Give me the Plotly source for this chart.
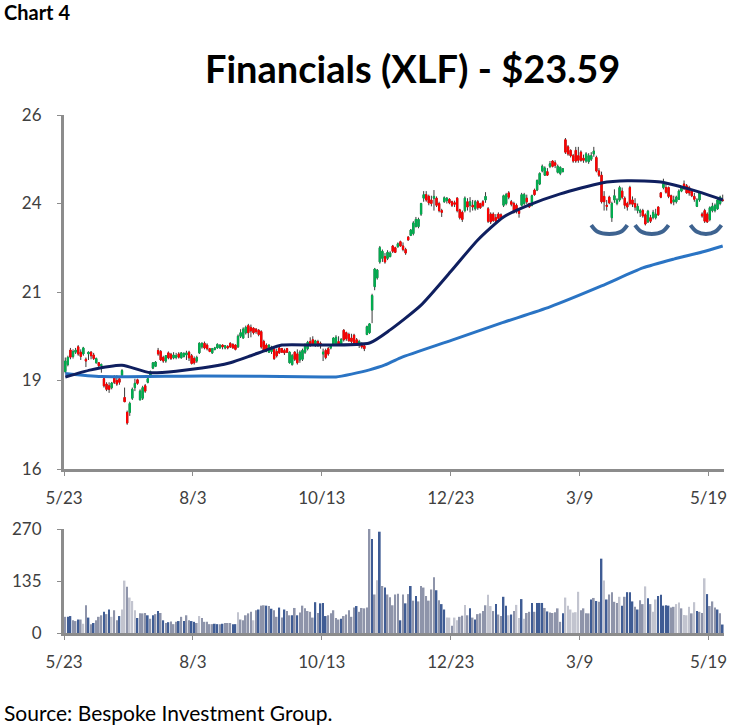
import numpy as np
import plotly.graph_objects as go

# === Підписи осей ===
x_tickvals = [0, 50, 100, 150, 200, 250]
x_ticktext = ["5/23", "8/3", "10/13", "12/23", "3/9", "5/19"]
price_tickvals = [16, 18.5, 21, 23.5, 26]
price_ticktext = ["16", "19", "21", "24", "26"]
vol_tickvals = [0, 135, 270]
vol_ticktext = ["0", "135", "270"]

# === Ціни ===
opens = [
    18.75, 18.95, 19.36, 19.18, 19.3, 19.45, 19.3, 19.25, 19.1, 19.25,
    19.3, 19.22, 19.0, 19.0, 18.92, 18.55, 18.4, 18.35, 18.3, 18.6,
    18.5, 18.55, 18.65, 18.02, 17.6, 17.6, 18.0, 18.3, 18.52, 17.95,
    18.0, 18.35, 18.45, 18.6, 18.85, 18.9, 19.35, 19.32, 19.15, 19.05,
    19.28, 19.24, 19.14, 19.15, 19.25, 19.14, 19.18, 19.22, 19.3, 19.2,
    19.12, 19.05, 19.28, 19.45, 19.55, 19.5, 19.4, 19.28, 19.38, 19.42,
    19.42, 19.5, 19.42, 19.46, 19.55, 19.52, 19.5, 19.45, 19.75, 19.7,
    19.85, 20.05, 20.0, 19.98, 19.95, 19.92, 19.88, 19.6, 19.5, 19.3,
    19.32, 19.38, 19.32, 19.42, 19.4, 19.35, 19.4, 19.0, 18.95, 19.3,
    19.25, 19.08, 19.1, 19.3, 19.4, 19.6, 19.65, 19.5, 19.6, 19.55,
    19.25, 19.35, 19.4, 19.42, 19.52, 19.55, 19.6, 19.52, 19.92, 19.85,
    19.8, 19.7, 19.78, 19.65, 19.55, 19.5, 19.48, 19.8, 19.85, 20.49,
    21.15, 21.4, 21.85, 21.95, 22.0, 21.95, 22.0, 22.3, 22.25, 22.28,
    22.42, 22.3, 22.2, 22.55, 22.6, 22.65, 22.85, 22.85, 23.2, 23.65,
    23.75, 23.7, 23.6, 23.65, 23.65, 23.5, 23.3, 23.55, 23.58, 23.62,
    23.55, 23.52, 23.65, 23.32, 23.25, 23.3, 23.55, 23.45, 23.45, 23.35,
    23.55, 23.5, 23.55, 23.6, 23.35, 23.2, 23.2, 23.1, 23.2, 23.18,
    23.45, 23.5, 23.8, 23.55, 23.5, 23.45, 23.3, 23.45, 23.5, 23.65,
    23.5, 23.45, 23.88, 23.88, 24.05, 24.42, 24.3, 24.4, 24.55, 24.7,
    24.65, 24.38, 24.35, 24.4, 25.3, 25.1, 25.0, 24.85, 25.0, 24.85,
    24.95, 24.78, 24.7, 24.68, 24.75, 24.9, 24.8, 24.42, 24.3, 23.7,
    23.45, 23.68, 23.1, 23.6, 23.5, 23.6, 23.85, 23.65, 23.5, 23.95,
    23.6, 23.5, 23.3, 23.25, 23.3, 23.18, 22.98, 23.1, 23.1, 23.1,
    23.4, 23.8, 23.95, 23.95, 23.95, 23.72, 23.55, 23.55, 23.62, 23.85,
    24.05, 24.0, 23.95, 23.85, 23.7, 23.42, 23.6, 23.2, 23.3, 23.2,
    23.05, 23.3, 23.3, 23.35, 23.5, 23.6,
]
closes = [
    19.05, 19.15, 19.16, 19.32, 19.36, 19.25, 19.18, 19.42, 19.05, 19.3,
    19.2, 19.12, 19.12, 18.92, 18.95, 18.35, 18.25, 18.25, 18.43, 18.45,
    18.4, 18.45, 18.78, 17.9, 17.3, 17.85, 18.25, 18.42, 18.42, 18.2,
    18.3, 18.2, 18.55, 18.75, 19.0, 19.02, 19.25, 19.08, 19.05, 19.2,
    19.14, 19.12, 19.22, 19.2, 19.16, 19.28, 19.26, 19.28, 19.14, 18.98,
    19.0, 19.15, 19.55, 19.55, 19.42, 19.4, 19.32, 19.4, 19.42, 19.52,
    19.5, 19.45, 19.48, 19.42, 19.45, 19.42, 19.38, 19.75, 19.85, 19.95,
    20.0, 19.85, 19.9, 19.85, 19.88, 19.8, 19.45, 19.35, 19.35, 19.5,
    19.44, 19.12, 19.2, 19.28, 19.3, 19.28, 19.3, 19.3, 19.2, 19.1,
    19.0, 19.3, 19.35, 19.5, 19.58, 19.5, 19.52, 19.62, 19.5, 19.48,
    19.3, 19.15, 19.25, 19.48, 19.7, 19.72, 19.5, 19.66, 19.65, 19.68,
    19.62, 19.6, 19.55, 19.5, 19.6, 19.45, 19.4, 20.02, 20.1, 20.9,
    21.65, 21.62, 22.25, 22.15, 21.85, 22.12, 22.1, 22.15, 22.12, 22.36,
    22.3, 22.2, 22.1, 22.47, 22.75, 22.95, 23.05, 23.05, 23.5, 23.75,
    23.6, 23.52, 23.5, 23.7, 23.45, 23.3, 23.25, 23.66, 23.65, 23.52,
    23.45, 23.48, 23.3, 23.1, 23.05, 23.65, 23.4, 23.55, 23.4, 23.55,
    23.38, 23.38, 23.45, 23.7, 23.0, 22.98, 23.02, 23.0, 23.08, 23.08,
    23.72, 23.75, 23.68, 23.48, 23.25, 23.28, 23.22, 23.75, 23.75, 23.55,
    23.4, 23.72, 23.75, 24.15, 24.35, 24.55, 24.5, 24.3, 24.62, 24.55,
    24.58, 24.55, 24.52, 24.48, 24.95, 24.9, 24.85, 24.7, 24.7, 24.72,
    24.72, 24.72, 24.9, 24.85, 24.85, 24.98, 24.42, 24.3, 23.55, 23.55,
    23.42, 23.52, 23.5, 23.72, 23.6, 23.95, 23.68, 23.45, 23.4, 23.5,
    23.48, 23.4, 23.42, 23.3, 23.15, 22.92, 23.28, 23.0, 23.25, 23.2,
    23.18, 23.68, 24.05, 23.82, 23.7, 23.52, 23.6, 23.68, 23.85, 23.95,
    23.92, 23.8, 23.8, 23.72, 23.62, 23.6, 23.8, 23.15, 23.0, 22.98,
    23.38, 23.42, 23.45, 23.6, 23.68, 23.59,
]
highs = [
    19.15, 19.2, 19.42, 19.38, 19.42, 19.5, 19.38, 19.45, 19.15, 19.32,
    19.33, 19.28, 19.15, 19.02, 18.98, 18.6, 18.45, 18.45, 18.46, 18.65,
    18.65, 18.6, 18.82, 18.3, 17.65, 17.9, 18.3, 18.55, 18.55, 18.25,
    18.35, 18.4, 18.58, 18.78, 19.02, 19.05, 19.42, 19.36, 19.2, 19.22,
    19.32, 19.28, 19.3, 19.28, 19.3, 19.3, 19.3, 19.34, 19.34, 19.25,
    19.18, 19.2, 19.58, 19.58, 19.6, 19.55, 19.42, 19.42, 19.45, 19.55,
    19.52, 19.52, 19.5, 19.5, 19.58, 19.55, 19.52, 19.8, 19.95, 20.0,
    20.05, 20.1, 20.08, 20.0, 19.98, 19.95, 19.92, 19.65, 19.55, 19.52,
    19.48, 19.42, 19.4, 19.45, 19.42, 19.4, 19.42, 19.32, 19.25, 19.33,
    19.38, 19.35, 19.4, 19.55, 19.62, 19.72, 19.75, 19.65, 19.65, 19.6,
    19.4, 19.4, 19.45, 19.52, 19.72, 19.78, 19.75, 19.7, 19.95, 19.88,
    19.85, 19.82, 19.82, 19.7, 19.65, 19.58, 19.5, 20.05, 20.12, 20.95,
    21.68, 21.65, 22.3, 22.2, 22.1, 22.18, 22.15, 22.33, 22.28, 22.4,
    22.45, 22.4, 22.25, 22.58, 22.78, 23.0, 23.12, 23.1, 23.52, 23.85,
    23.85, 23.75, 23.72, 23.88, 23.7, 23.55, 23.35, 23.7, 23.68, 23.65,
    23.58, 23.58, 23.68, 23.35, 23.3, 23.7, 23.65, 23.68, 23.6, 23.6,
    23.6, 23.52, 23.6, 23.82, 23.4, 23.25, 23.25, 23.2, 23.25, 23.22,
    23.75, 23.8, 23.85, 23.6, 23.55, 23.5, 23.35, 23.8, 23.8, 23.75,
    23.52, 23.75, 23.92, 24.18, 24.38, 24.6, 24.55, 24.5, 24.7, 24.72,
    24.72, 24.6, 24.55, 24.5, 25.35, 25.15, 25.03, 24.9, 25.1, 25.1,
    25.0, 24.88, 24.95, 24.92, 24.95, 25.1, 24.85, 24.5, 24.4, 23.85,
    23.6, 23.72, 23.55, 23.9, 23.65, 24.0, 23.95, 23.7, 23.55, 24.0,
    23.7, 23.65, 23.5, 23.35, 23.35, 23.22, 23.32, 23.18, 23.32, 23.35,
    23.42, 23.82, 24.2, 24.05, 23.98, 23.75, 23.72, 23.72, 23.9, 23.98,
    24.15, 24.05, 24.0, 23.9, 23.8, 23.65, 23.82, 23.25, 23.35, 23.25,
    23.42, 23.52, 23.5, 23.65, 23.72, 23.75,
]
lows = [
    18.7, 18.9, 19.1, 19.12, 19.25, 19.2, 19.08, 19.2, 18.88, 19.08,
    19.1, 19.08, 18.98, 18.85, 18.72, 18.3, 18.2, 18.15, 18.25, 18.4,
    18.35, 18.38, 18.62, 17.9, 17.25, 17.5, 17.95, 18.2, 18.38, 17.95,
    17.95, 18.15, 18.42, 18.58, 18.82, 18.88, 19.2, 19.05, 19.0, 19.0,
    19.1, 19.08, 19.1, 19.1, 19.12, 19.12, 19.15, 19.08, 19.05, 18.95,
    18.95, 19.0, 19.25, 19.4, 19.38, 19.35, 19.3, 19.25, 19.35, 19.4,
    19.4, 19.38, 19.38, 19.38, 19.42, 19.4, 19.35, 19.42, 19.7, 19.68,
    19.8, 19.7, 19.72, 19.8, 19.82, 19.75, 19.4, 19.3, 19.3, 19.28,
    19.25, 19.08, 19.15, 19.25, 19.28, 19.22, 19.28, 18.98, 18.92, 19.05,
    18.95, 19.0, 19.05, 19.25, 19.35, 19.45, 19.5, 19.45, 19.45, 19.4,
    19.05, 19.1, 19.2, 19.38, 19.5, 19.52, 19.48, 19.5, 19.6, 19.62,
    19.6, 19.55, 19.52, 19.48, 19.42, 19.4, 19.33, 19.78, 19.82, 20.12,
    21.05, 21.35, 21.8, 21.85, 21.8, 21.9, 21.98, 22.1, 22.1, 22.25,
    22.28, 22.15, 22.05, 22.45, 22.58, 22.6, 22.82, 22.8, 23.15, 23.55,
    23.55, 23.45, 23.42, 23.3, 23.4, 23.25, 23.12, 23.52, 23.5, 23.48,
    23.4, 23.4, 23.25, 23.05, 22.98, 23.25, 23.3, 23.25, 23.3, 23.3,
    23.32, 23.35, 23.4, 23.52, 22.95, 22.92, 22.98, 22.95, 23.05, 23.05,
    23.4, 23.45, 23.62, 23.42, 23.22, 23.22, 23.1, 23.42, 23.45, 23.48,
    23.38, 23.42, 23.72, 23.85, 24.02, 24.38, 24.28, 24.28, 24.5, 24.52,
    24.5, 24.35, 24.3, 24.38, 24.9, 24.85, 24.8, 24.65, 24.65, 24.65,
    24.68, 24.65, 24.65, 24.62, 24.7, 24.82, 24.38, 24.25, 23.5, 23.3,
    23.3, 23.48, 22.98, 23.52, 23.45, 23.55, 23.62, 23.35, 23.3, 23.45,
    23.4, 23.3, 23.22, 23.12, 23.1, 22.88, 22.95, 22.95, 23.05, 23.05,
    23.15, 23.65, 23.9, 23.78, 23.65, 23.48, 23.45, 23.5, 23.6, 23.82,
    23.88, 23.78, 23.72, 23.68, 23.55, 23.4, 23.55, 23.1, 22.95, 22.95,
    23.0, 23.25, 23.25, 23.32, 23.45, 23.55,
]

# === Ковзні середні ===
ma50_idx = [0, 10, 22, 33, 53, 64, 72, 78, 84, 99, 118, 126, 138, 150, 160, 170, 180, 192, 208, 218, 231, 239, 247, 255]
ma50 = [18.60, 18.80, 18.93, 18.72, 18.85, 19.0, 19.2, 19.36, 19.50, 19.50, 19.56, 19.93, 20.63, 21.62, 22.47, 23.12, 23.46, 23.77, 24.08, 24.14, 24.11, 23.97, 23.80, 23.60]
ma200_idx = [0, 14, 53, 100, 105, 111, 118, 124, 130, 150, 169, 188, 208, 224, 236, 247, 255]
ma200 = [18.70, 18.61, 18.63, 18.60, 18.60, 18.68, 18.80, 18.94, 19.14, 19.64, 20.12, 20.58, 21.17, 21.68, 21.93, 22.13, 22.30]

# === Дуги під мінімумами ===
arc_levels = [22.89, 22.70, 22.64, 22.70, 22.89]
arc1_idx = [204.5, 207, 211.5, 216, 218.5]
arc2_idx = [221.5, 224, 228, 232, 234.5]
arc3_idx = [243, 245.5, 249, 252.5, 255]

# === Об'єм ===
volume = [
    42, 42, 44, 33, 31, 35, 35, 24, 72, 40,
    23, 26, 33, 42, 46, 55, 49, 61, 42, 59,
    33, 44, 61, 136, 120, 92, 83, 59, 39, 51,
    51, 52, 46, 37, 46, 49, 57, 52, 33, 26,
    28, 30, 23, 29, 31, 42, 31, 46, 33, 31,
    29, 26, 44, 39, 29, 29, 23, 23, 24, 23,
    23, 24, 26, 26, 26, 23, 23, 54, 35, 33,
    46, 51, 55, 33, 59, 61, 71, 72, 71, 70,
    63, 59, 42, 66, 40, 61, 57, 46, 46, 65,
    46, 53, 71, 64, 57, 55, 40, 80, 52, 77,
    78, 44, 46, 51, 59, 39, 35, 37, 44, 48,
    59, 42, 66, 70, 55, 65, 64, 66, 271, 244,
    100, 137, 263, 122, 118, 100, 93, 72, 100, 102,
    33, 100, 77, 101, 122, 84, 96, 82, 122, 118,
    96, 84, 113, 145, 111, 85, 75, 61, 40, 40,
    19, 40, 33, 42, 45, 73, 46, 64, 40, 35,
    49, 51, 57, 72, 99, 70, 57, 75, 48, 44,
    94, 71, 46, 48, 57, 73, 39, 88, 37, 52,
    55, 78, 55, 78, 78, 78, 65, 56, 53, 52,
    54, 64, 29, 51, 92, 71, 61, 53, 54, 107,
    59, 64, 51, 51, 87, 91, 83, 81, 193, 136,
    87, 100, 106, 81, 78, 94, 71, 94, 106, 106,
    82, 68, 61, 85, 75, 121, 90, 75, 55, 87,
    96, 99, 71, 72, 71, 66, 68, 75, 79, 64,
    47, 46, 68, 51, 80, 57, 55, 52, 142, 101,
    70, 82, 66, 61, 51, 22,
]
vol_dark = [1, 2, 5, 9, 11, 15, 17, 21, 28, 32, 34, 36, 38, 40, 44, 46, 49, 50, 58, 59, 61, 65, 66, 75, 78, 80, 83, 85, 88, 90, 97, 99, 100, 101, 107, 113, 119,
            122, 124, 130, 132, 134, 136, 144, 146, 147, 157, 159, 167, 170, 171, 173, 177, 181, 183, 184, 185, 187, 193, 204, 206, 208, 210, 216, 218, 219, 220, 222, 226, 230, 231, 232, 233, 234, 245, 249, 253, 255]
vol_pale = [7, 18, 22, 23, 25, 26, 27, 52, 67, 73, 121, 148, 149, 151, 152, 155, 164, 165, 172, 175, 176, 178, 194, 195, 196, 197, 198, 199, 209, 215, 225, 228, 229, 237, 238, 240, 241, 242, 244, 248]

# === Кольори ===
GREEN = "#00B050"
RED = "#FF0000"
WICK = "#3A3A3A"
NAVY = "#0F1F5F"
BLUE = "#2A74C4"
ARC = "#3E6390"
AXIS = "#8C8C8C"
TEXT = "#404040"
FONT = "Lato"

W, H = 750, 728
pos = np.arange(len(closes)) + 0.5
vol_pos = np.arange(len(volume)) + 0.5

vol_colors = ["#8E94AA"] * len(volume)
for i in vol_dark:
    vol_colors[i] = "#3F5C94"
for i in vol_pale:
    vol_colors[i] = "#C2C4CF"

body_top = np.maximum(opens, closes)
body_bottom = np.minimum(opens, closes)

fig = go.Figure()

# тіні свічок окремо, щоб вони були темні
fig.add_trace(go.Candlestick(
    x=pos, open=opens, high=highs, low=lows, close=closes,
    increasing=dict(line=dict(color=WICK, width=1), fillcolor=WICK),
    decreasing=dict(line=dict(color=WICK, width=1), fillcolor=WICK),
    whiskerwidth=0, showlegend=False,
))
fig.add_trace(go.Candlestick(
    x=pos, open=opens, high=body_top, low=body_bottom, close=closes,
    increasing=dict(line=dict(color=GREEN, width=1), fillcolor=GREEN),
    decreasing=dict(line=dict(color=RED, width=1), fillcolor=RED),
    whiskerwidth=0, showlegend=False,
))

fig.add_trace(go.Scatter(x=np.array(ma200_idx) + 0.5, y=ma200, mode="lines",
                         line=dict(color=BLUE, width=3, shape="spline", smoothing=0.6), showlegend=False))
fig.add_trace(go.Scatter(x=np.array(ma50_idx) + 0.5, y=ma50, mode="lines",
                         line=dict(color=NAVY, width=3, shape="spline", smoothing=0.6), showlegend=False))

for arc_idx in (arc1_idx, arc2_idx, arc3_idx):
    fig.add_trace(go.Scatter(
        x=arc_idx, y=arc_levels, mode="lines",
        line=dict(color=ARC, width=4, shape="spline"), showlegend=False,
    ))

fig.add_trace(go.Bar(
    x=vol_pos, y=volume, marker=dict(color=vol_colors, line=dict(width=0)),
    xaxis="x2", yaxis="y2", showlegend=False,
))

axis_style = dict(
    showgrid=False, zeroline=False, showline=True, linecolor=AXIS, linewidth=3,
    ticks="outside", ticklen=4, tickwidth=1, tickcolor=AXIS, automargin=False,
    tickfont=dict(family=FONT, size=17, color=TEXT),
)

fig.update_layout(
    width=W, height=H,
    margin=dict(l=0, r=0, t=0, b=0),
    paper_bgcolor="white", plot_bgcolor="white",
    bargap=0.35,
    xaxis=dict(
        domain=[64 / W, 724 / W], range=[0, 256], anchor="y",
        tickvals=x_tickvals, ticktext=x_ticktext, ticklabelstandoff=8,
        rangeslider=dict(visible=False), **axis_style,
    ),
    yaxis=dict(
        domain=[1 - 469 / H, 1 - 115 / H], range=[16, 26], anchor="x",
        tickvals=price_tickvals, ticktext=price_ticktext, ticklabelstandoff=12,
        **axis_style,
    ),
    xaxis2=dict(
        domain=[64 / W, 724 / W], range=[0, 256], anchor="y2",
        tickvals=x_tickvals, ticktext=x_ticktext, ticklabelstandoff=8,
        **axis_style,
    ),
    yaxis2=dict(
        domain=[1 - 633 / H, 1 - 529 / H], range=[0, 270], anchor="x2",
        tickvals=vol_tickvals, ticktext=vol_ticktext, ticklabelstandoff=12,
        **axis_style,
    ),
    annotations=[
        dict(text="<b>Chart 4</b>", xref="paper", yref="paper", x=2 / W, y=1 - 12 / H,
             xanchor="left", yanchor="middle", showarrow=False,
             font=dict(family=FONT, size=20, color="black")),
        dict(text="<b>Financials (XLF) - $23.59</b>", xref="paper", yref="paper", x=412 / W, y=1 - 68 / H,
             xanchor="center", yanchor="middle", showarrow=False,
             font=dict(family=FONT, size=38, color="black")),
        dict(text="Source: Bespoke Investment Group.", xref="paper", yref="paper", x=2 / W, y=1 - 712 / H,
             xanchor="left", yanchor="middle", showarrow=False,
             font=dict(family=FONT, size=21, color="black")),
    ],
)

# у сторінки є відступ body 8px, прибираємо його
fig.write_html("out.html", config=dict(displayModeBar=False), post_script="document.body.style.margin='0';")
